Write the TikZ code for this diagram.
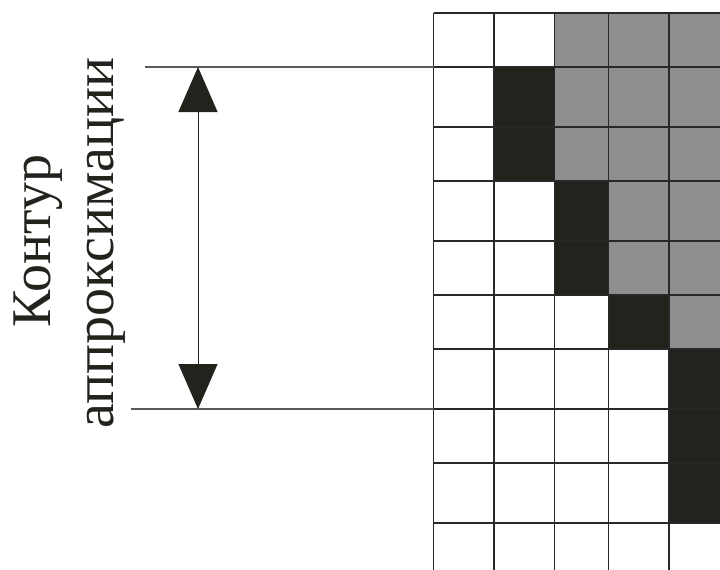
\documentclass[tikz,border=0pt]{standalone}
\usepackage{fontspec}
\setmainfont{Liberation Serif}
\newfontfamily\capfont{Liberation Serif}
\usetikzlibrary{arrows.meta}
\definecolor{cellgray}{RGB}{143,143,143}
\definecolor{cellblack}{RGB}{36,34,29}
\definecolor{gridline}{RGB}{40,40,40}
\definecolor{leader}{RGB}{90,90,90}
\tikzset{
  graycell/.style={fill=cellgray},
  blackcell/.style={fill=cellblack},
  gridstyle/.style={draw=gridline,line width=1.3pt},
  leaderline/.style={draw=leader,line width=1.2pt},
  dimarrow/.style={draw=cellblack,line width=1pt,{Triangle[width=39pt,length=45pt]}-{Triangle[width=39pt,length=45pt]}},
  caption/.style={rotate=90,anchor=base,inner sep=0pt,font=\capfont\fontsize{56}{63}\selectfont,text=cellblack}
}
\begin{document}
\begin{tikzpicture}[x=1pt,y=-1pt]
\useasboundingbox (0,0) rectangle (720,570);
\clip (0,0) rectangle (720,570);
\def\xa{433.5}\def\xb{494}\def\xc{554.5}\def\xd{608.5}\def\xe{669}\def\xf{729}
% gray cells
\fill[graycell] (\xc,13) rectangle (\xf,181);
\fill[graycell] (\xd,181) rectangle (\xf,295);
\fill[graycell] (\xe,295) rectangle (\xf,349);
% black cells
\fill[blackcell] (\xb,67) rectangle (\xc,181);
\fill[blackcell] (\xc,181) rectangle (\xd,295);
\fill[blackcell] (\xd,295) rectangle (\xe,349);
\fill[blackcell] (\xe,349) rectangle (\xf,523);
% grid lines
\foreach \gx in {\xa,\xb,\xc,\xd,\xe}{
  \draw[gridstyle] (\gx,13) -- (\gx,575);
}
\foreach \gy in {13,67,127,181,241,295,349,409,463,523}{
  \draw[gridstyle] (\xa,\gy) -- (730,\gy);
}
% leader lines
\coordinate (topL) at (145,67);
\coordinate (topR) at (\xa,67);
\coordinate (botL) at (131,409);
\coordinate (botR) at (\xa,409);
\draw[leaderline] (topL) -- (topR);
\draw[leaderline] (botL) -- (botR);
% dimension arrow
\coordinate (arrTop) at (198,67);
\coordinate (arrBot) at (198,409);
\draw[dimarrow] (arrTop) -- (arrBot);
% caption
\node[caption] (cap1) at (50,241) {Контур};
\node[caption] (cap2) at (113,243) {аппроксимации};
\end{tikzpicture}
\end{document}
